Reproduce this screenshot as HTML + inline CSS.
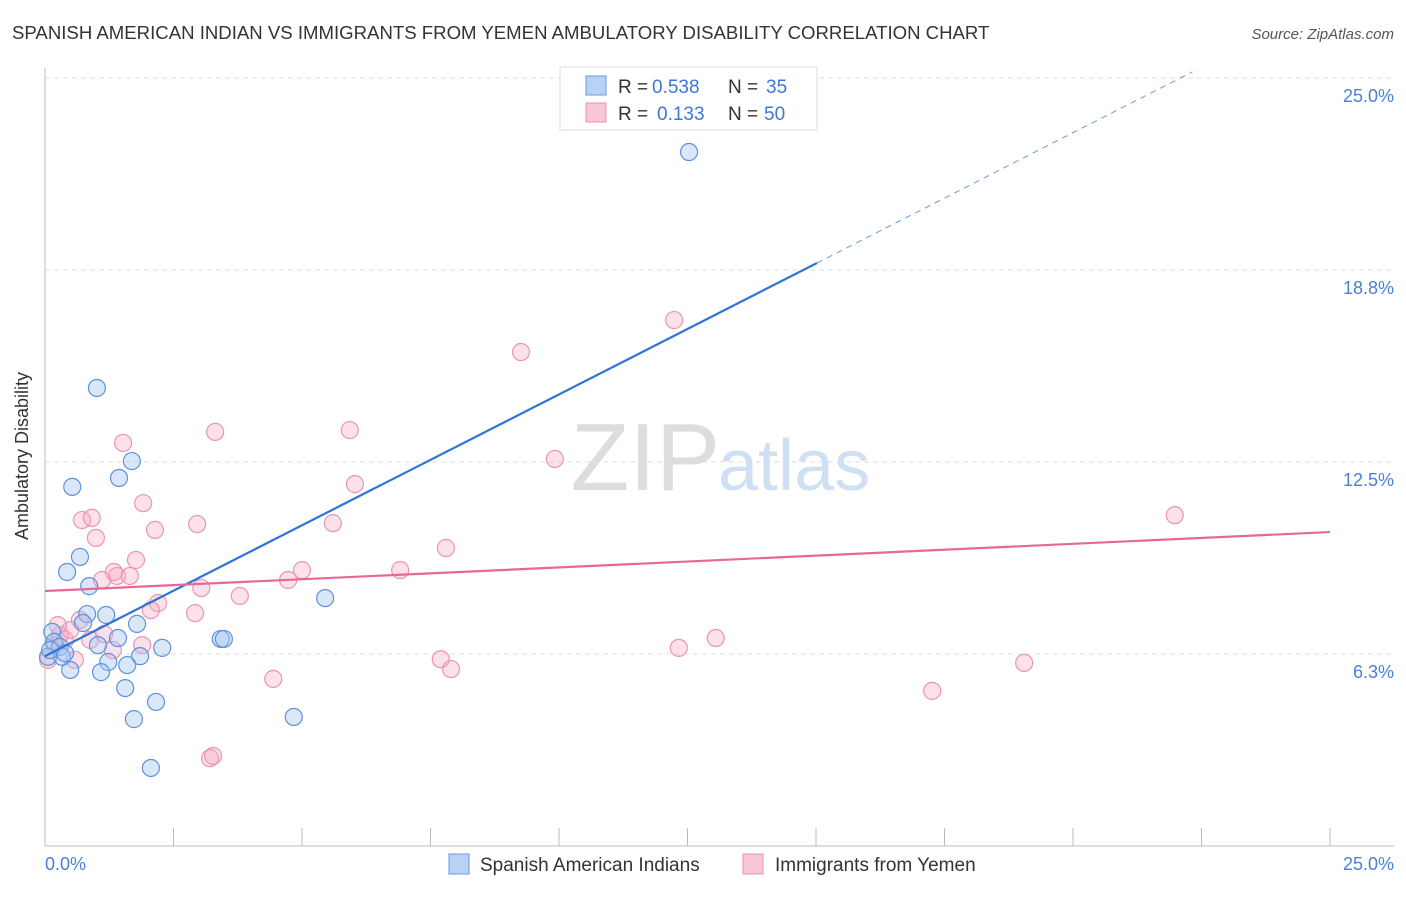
<!DOCTYPE html>
<html><head><meta charset="utf-8"><style>
body{margin:0;background:#fff;font-family:"Liberation Sans",sans-serif}
svg text{font-family:"Liberation Sans",sans-serif}
</style></head><body>
<svg width="1406" height="892">
<text x="12" y="39" font-size="18.6" fill="#333">SPANISH AMERICAN INDIAN VS IMMIGRANTS FROM YEMEN AMBULATORY DISABILITY CORRELATION CHART</text>
<text x="1394" y="39" font-size="15" fill="#555" font-style="italic" text-anchor="end">Source: ZipAtlas.com</text>
<g id="grid"></g>
<text x="720" y="490" font-size="96" fill="#ddd" text-anchor="end" font-family="Liberation Serif">ZIP</text>
<text x="718" y="490" font-size="72" fill="#d0e0f4">atlas</text>
<line x1="45" y1="68" x2="45" y2="846" stroke="#bbb"/>
<line x1="45" y1="846" x2="1394" y2="846" stroke="#bbb"/>
<g id="xticks"></g>
<text x="28" y="456" font-size="18" fill="#333" text-anchor="middle" transform="rotate(-90 28 456)">Ambulatory Disability</text>
<text x="45" y="870" font-size="18" fill="#4a7fd6">0.0%</text>
<text x="1394" y="870" font-size="18" fill="#4a7fd6" text-anchor="end">25.0%</text>
<g id="pts"></g>
<g id="trend"></g>
<g>
<rect x="560" y="67" width="257" height="63" fill="#fff" stroke="#ddd"/>
<rect x="586" y="76" width="20" height="19" fill="#b8d2f5" stroke="#6a9ae0"/>
<rect x="586" y="103" width="20" height="19" fill="#f9c6d6" stroke="#e892ae"/>
<text y="93" font-size="19" fill="#333"><tspan x="618">R =</tspan><tspan x="652" fill="#3b78d8">0.538</tspan><tspan x="728">N =</tspan><tspan x="766" fill="#3b78d8">35</tspan></text>
<text y="120" font-size="19" fill="#333"><tspan x="618">R =</tspan><tspan x="657" fill="#3b78d8">0.133</tspan><tspan x="728">N =</tspan><tspan x="764" fill="#3b78d8">50</tspan></text>
</g>
<g>
<rect x="449" y="854" width="20" height="20" fill="#b8d2f5" stroke="#6a9ae0"/>
<text x="480" y="871" font-size="19" fill="#333">Spanish American Indians</text>
<rect x="743" y="854" width="20" height="20" fill="#f9c6d6" stroke="#e892ae"/>
<text x="775" y="871" font-size="19" fill="#333">Immigrants from Yemen</text>
</g>
</svg>
<script>
const yTicks=[6.3,12.5,18.8,25.0];
const blueX=[12.53,1.01,1.69,1.44,0.53,0.68,0.43,0.86,5.45,0.82,1.19,0.74,1.79,3.42,3.48,1.03,2.28,0.14,0.18,0.29,0.06,1.85,1.23,1.60,0.49,1.09,1.56,2.16,1.73,4.84,2.06,0.33,1.42,0.10,0.39];
const blueY=[22.59,14.91,12.53,11.98,11.69,9.41,8.92,8.46,8.07,7.55,7.52,7.26,7.23,6.74,6.74,6.54,6.45,6.97,6.64,6.48,6.16,6.18,5.99,5.89,5.73,5.66,5.14,4.69,4.13,4.20,2.54,6.16,6.77,6.38,6.28];
const pinkX=[12.24,9.26,1.52,3.31,5.93,9.92,6.03,0.72,0.91,0.99,1.91,2.96,2.14,5.60,7.80,1.77,5.00,6.91,4.73,1.40,1.65,3.04,1.34,1.11,3.79,2.20,2.06,2.92,0.68,1.15,13.05,12.33,1.32,1.89,7.70,7.90,4.44,21.98,19.05,17.26,3.21,3.27,0.29,0.39,0.19,0.49,0.88,0.58,0.06,0.25];
const pinkY=[17.12,16.08,13.12,13.48,13.54,12.60,11.78,10.61,10.68,10.03,11.16,10.48,10.29,10.51,9.70,9.31,8.98,8.98,8.66,8.79,8.79,8.40,8.92,8.66,8.14,7.91,7.68,7.58,7.36,6.90,6.77,6.45,6.38,6.54,6.08,5.76,5.44,10.77,5.96,5.05,2.86,2.93,6.87,6.71,6.54,7.03,6.71,6.06,6.06,7.19];
const blueTrend=[6.18,0.852];const pinkTrend=[8.30,10.22];
const X=v=>45+v*51.4, Y=v=>846-v*30.72;
const NS='http://www.w3.org/2000/svg';
function mk(t,a,p){const e=document.createElementNS(NS,t);for(const k in a)e.setAttribute(k,a[k]);p.appendChild(e);return e;}
const grid=document.getElementById('grid');
yTicks.forEach(t=>{const yy=Y(t===6.3?6.25:t===18.8?18.75:t);
const l=mk('line',{x1:45,x2:1394,y1:yy,y2:yy,stroke:'#ddd','stroke-dasharray':'5,4'},grid);


const tx=mk('text',{x:1394,y:yy+24,'font-size':18,fill:'#4a7fd6','text-anchor':'end'},grid);
tx.textContent=t.toFixed(1)+'%';

});
const xt=document.getElementById('xticks');
for(let i=0;i<=10;i++){const l=mk('line',{x1:45+i*128.5,x2:45+i*128.5,y1:828,y2:846,stroke:'#bbb'},xt);

}
const pts=document.getElementById('pts');
pinkX.forEach((x,i)=>{const c=mk('circle',{cx:X(x),cy:Y(pinkY[i]),r:8.5,fill:'rgba(246,170,195,0.35)',stroke:'#ec95b2','stroke-width':1.2},pts);

});
blueX.forEach((x,i)=>{const c=mk('circle',{cx:X(x),cy:Y(blueY[i]),r:8.5,fill:'rgba(160,195,240,0.4)',stroke:'#5d92dc','stroke-width':1.2},pts);

});
const tr=document.getElementById('trend');
let l=mk('line',{x1:X(0),y1:Y(blueTrend[0]),x2:X(15.02),y2:Y(blueTrend[0]+blueTrend[1]*15.02),stroke:'#2f74d8','stroke-width':2.2},tr);


const xe=(25.2-blueTrend[0])/blueTrend[1];
l=mk('line',{x1:X(15.02),y1:Y(blueTrend[0]+blueTrend[1]*15.02),x2:X(xe),y2:Y(25.2),stroke:'#6a9ae0','stroke-width':1,'stroke-dasharray':'6,5'},tr);


l=mk('line',{x1:X(0),y1:Y(pinkTrend[0]),x2:X(25),y2:Y(pinkTrend[1]),stroke:'#e6679a','stroke-width':2.2},tr);


</script>
</body></html>
